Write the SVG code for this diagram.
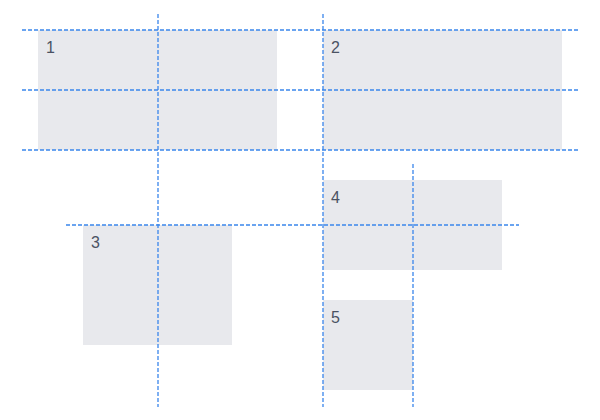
<svg xmlns="http://www.w3.org/2000/svg" width="600" height="420" viewBox="0 0 600 420">
<style>
.box{fill:#e8e9ed}
.lbl{font-family:"Liberation Sans",Arial,sans-serif;font-size:16px;fill:#4a5263}
.guide{stroke:#3a86ec;stroke-width:1.3;stroke-dasharray:4 2;fill:none}
</style>
<rect width="600" height="420" fill="#ffffff"/>
<g id="node1"><rect class="box" x="38" y="30" width="239" height="120"/><text class="lbl" x="46" y="53">1</text></g>
<g id="node2"><rect class="box" x="323" y="30" width="239" height="120"/><text class="lbl" x="331" y="53">2</text></g>
<g id="node3"><rect class="box" x="83" y="225" width="149" height="120"/><text class="lbl" x="91" y="248">3</text></g>
<g id="node4"><rect class="box" x="323" y="180" width="179" height="90"/><text class="lbl" x="331" y="203">4</text></g>
<g id="node5"><rect class="box" x="323" y="300" width="90" height="90"/><text class="lbl" x="331" y="323">5</text></g>
<g id="connectors">
<line class="guide" x1="22" y1="30" x2="578" y2="30"/>
<line class="guide" x1="22" y1="90" x2="578" y2="90"/>
<line class="guide" x1="22" y1="150" x2="578" y2="150"/>
<line class="guide" x1="66" y1="225" x2="519" y2="225"/>
<line class="guide" x1="158" y1="14" x2="158" y2="407"/>
<line class="guide" x1="323" y1="14" x2="323" y2="407"/>
<line class="guide" x1="413" y1="164" x2="413" y2="407"/>
</g>
</svg>
